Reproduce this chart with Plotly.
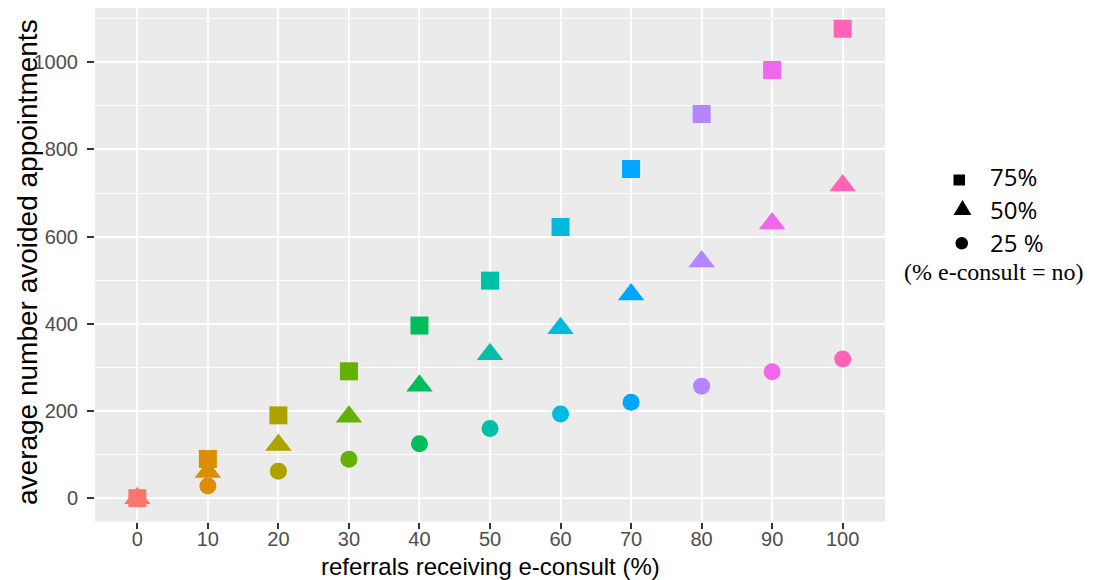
import plotly.graph_objects as go

# ---- data ----
referrals = [0, 10, 20, 30, 40, 50, 60, 70, 80, 90, 100]
avoided_75 = [0, 90, 190, 291, 396, 499, 622, 755, 881, 982, 1077]
avoided_50 = [0, 60, 122, 187, 258, 330, 390, 467, 543, 630, 717]
avoided_25 = [0, 28, 62, 89, 125, 160, 193, 220, 257, 290, 319]
point_colors = ["#F8766D", "#DB8E00", "#AEA200", "#64B200", "#00BD5C", "#00C1A7",
                "#00BADE", "#00A6FF", "#B385FF", "#EF67EB", "#FF63B6"]
x_ticks = [0, 10, 20, 30, 40, 50, 60, 70, 80, 90, 100]
y_ticks = [0, 200, 400, 600, 800, 1000]
legend_labels = ["75%", "50%", "25 %"]
legend_note = "(% e-consult = no)"

# page body has an 8px margin; figure sized to fit the window
OFF = 8
W, H = 1094 - OFF, 580 - OFF


def px(x):
    return (x - OFF) / W


def py(y):
    return 1 - (y - OFF) / H


fig = go.Figure()
fig.add_trace(go.Scatter(x=referrals, y=avoided_75, mode="markers",
                         marker=dict(symbol="square", size=18, color=point_colors, line=dict(width=0)),
                         showlegend=False, hoverinfo="x+y"))
fig.add_trace(go.Scatter(x=referrals, y=avoided_25, mode="markers",
                         marker=dict(symbol="circle", size=17, color=point_colors, line=dict(width=0)),
                         showlegend=False, hoverinfo="x+y"))
fig.add_trace(go.Scatter(x=referrals, y=avoided_50, mode="markers",
                         marker=dict(symbol="triangle-up", size=23, color=point_colors, line=dict(width=0)),
                         showlegend=False, hoverinfo="x+y"))

tickfont = dict(family="Liberation Sans, Arial, sans-serif", size=20, color="#4D4D4D")

fig.update_layout(
    width=W, height=H,
    margin=dict(l=0, r=0, t=0, b=0),
    paper_bgcolor="white",
    plot_bgcolor="#EBEBEB",
    showlegend=False,
    xaxis=dict(domain=[px(95), px(885)], range=[-6, 106], tickvals=x_ticks,
               ticktext=[str(v) for v in x_ticks], showgrid=True, gridcolor="white",
               gridwidth=1.6, zeroline=False, ticks="outside", ticklen=6,
               tickcolor="#333333", tickwidth=1.5, tickfont=tickfont, showline=False,
               ticklabelstandoff=-7),
    yaxis=dict(domain=[py(521.7), py(8)], range=[-54, 1124.4],
               tickvals=y_ticks, ticktext=[str(v) for v in y_ticks], showgrid=True,
               gridcolor="white", gridwidth=1.6, zeroline=False, ticks="outside", ticklen=7,
               tickcolor="#333333", tickwidth=1.5, tickfont=tickfont, showline=False,
               ticklabelstandoff=5,
               minor=dict(dtick=100, tick0=0, showgrid=True, gridcolor="white", gridwidth=0.8)),
)

# axis titles
fig.add_annotation(text="average number avoided appointments", x=px(27), y=py(262),
                   xref="paper", yref="paper", showarrow=False, textangle=-90,
                   font=dict(family="Liberation Sans, Arial, sans-serif", size=28, color="black"),
                   xanchor="center", yanchor="middle")
fig.add_annotation(text="referrals receiving e-consult (%)", x=px(490), y=py(566),
                   xref="paper", yref="paper", showarrow=False,
                   font=dict(family="Liberation Sans, Arial, sans-serif", size=24, color="black"),
                   xanchor="center", yanchor="middle")

# custom legend (shape key)
fig.add_shape(type="rect", xref="paper", yref="paper",
              x0=px(953.5), x1=px(965), y0=py(185.5), y1=py(174.5),
              fillcolor="black", line=dict(width=0))
fig.add_shape(type="path", xref="paper", yref="paper",
              path=f"M {px(953.5)},{py(215)} L {px(971.5)},{py(215)} L {px(962.5)},{py(200)} Z",
              fillcolor="black", line=dict(width=0))
fig.add_shape(type="circle", xref="paper", yref="paper",
              x0=px(955.5), x1=px(968), y0=py(249.5), y1=py(237),
              fillcolor="black", line=dict(width=0))

legend_font = dict(family="Open Sans, Noto Sans, sans-serif", size=24, color="black")
for label, ycen in zip(legend_labels, [176, 209, 242]):
    fig.add_annotation(text=label, x=px(988), y=py(ycen), xref="paper", yref="paper",
                       showarrow=False, xanchor="left", yanchor="middle", font=legend_font)
fig.add_annotation(text=legend_note, x=px(993), y=py(272), xref="paper", yref="paper",
                   showarrow=False, xanchor="center", yanchor="middle",
                   font=dict(family="Liberation Serif, Times New Roman, serif", size=24, color="black"))

fig.write_html("out.html")
